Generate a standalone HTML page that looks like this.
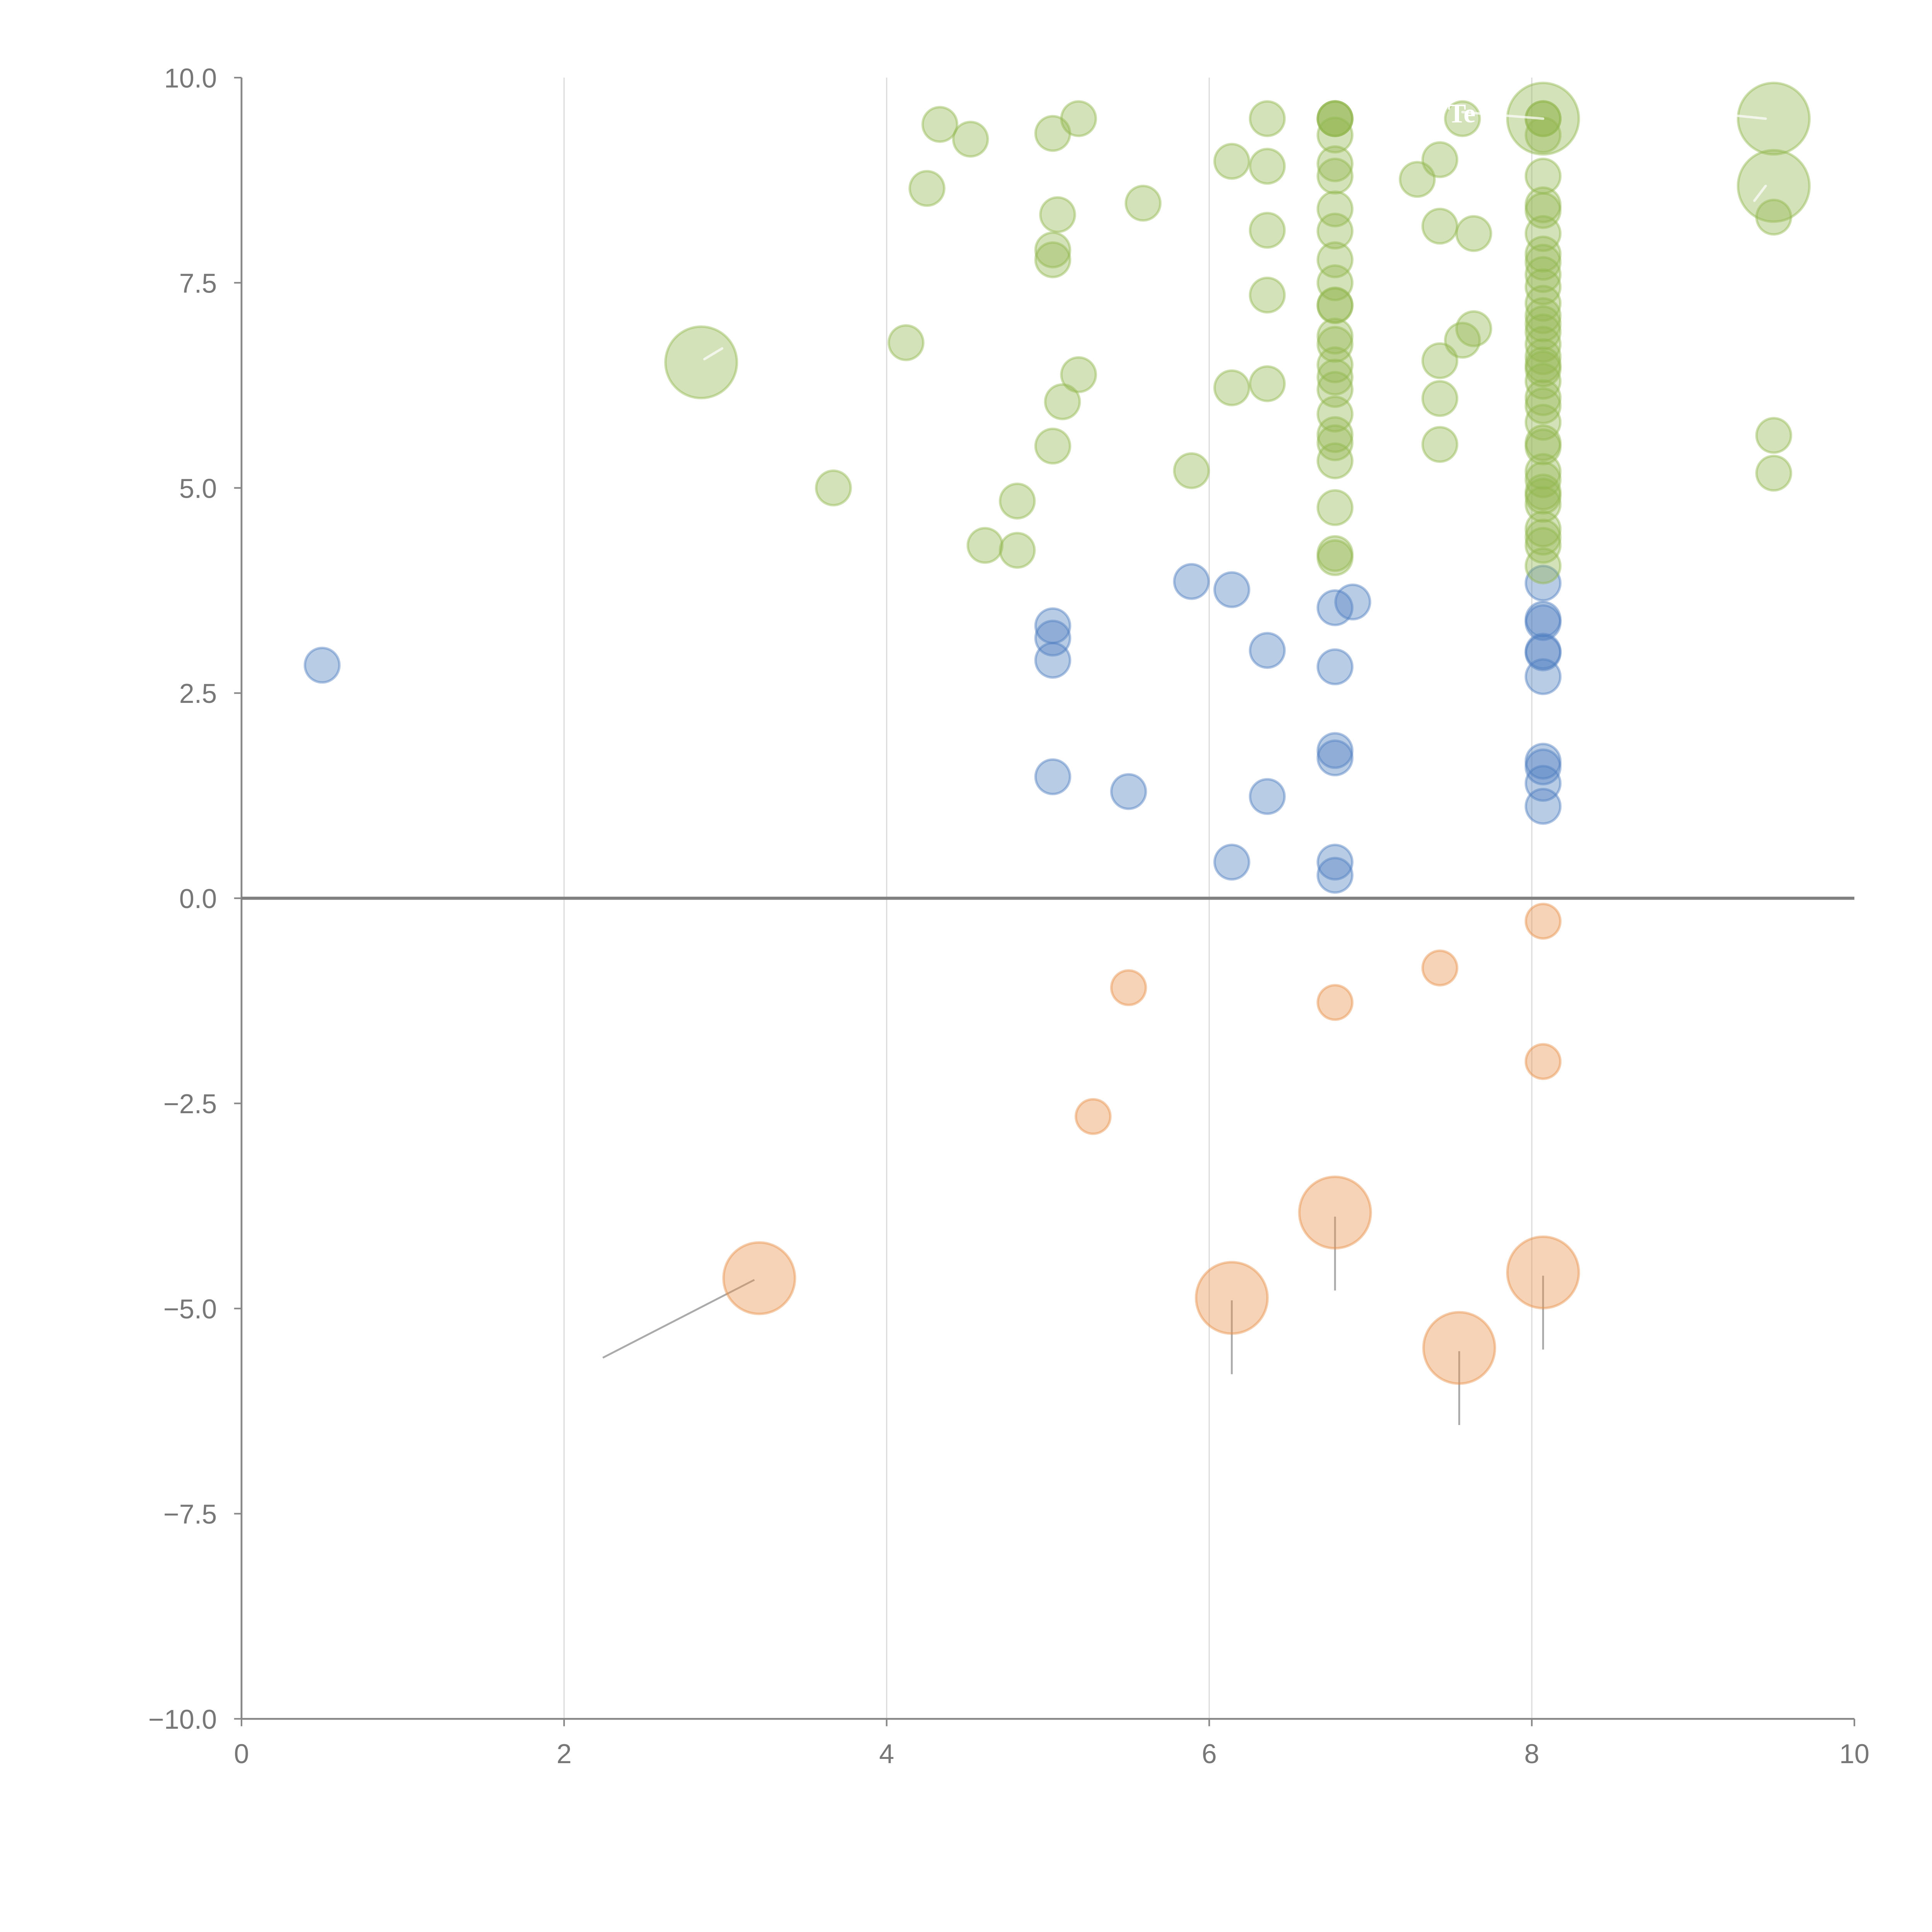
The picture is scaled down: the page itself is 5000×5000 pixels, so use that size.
<!DOCTYPE html>
<html><head><meta charset="utf-8"><style>html,body{margin:0;padding:0;background:#fff}svg{display:block}</style></head>
<body>
<svg id="chart" width="5000" height="5000" viewBox="0 0 1568 1568" xmlns="http://www.w3.org/2000/svg" font-family="Liberation Sans, sans-serif">
<g id="grid"></g>
<g id="axes"></g>
<g id="marks"></g>
</svg>
<script>
const xTicks=[0,2,4,6,8,10];
const yTicks=[10,7.5,5,2.5,0,-2.5,-5,-7.5,-10];
const greenX=[4.33,4.52,4.25,5.03,5.19,5.06,5.03,5.03,5.59,6.14,6.36,6.36,6.36,6.36,6.36,6.14,4.12,5.19,5.09,5.03,3.67,4.81,4.61,4.81,5.89,
6.78,6.78,6.78,6.78,6.78,6.78,6.78,6.78,6.78,6.78,6.78,6.78,6.78,6.78,6.78,6.78,6.78,6.78,6.78,6.78,6.78,6.78,6.78,6.78,
7.29,7.43,7.57,7.43,7.64,7.43,7.57,7.64,7.43,7.43,
8.07,8.07,8.07,8.07,8.07,8.07,8.07,8.07,8.07,8.07,8.07,8.07,8.07,8.07,8.07,8.07,8.07,8.07,8.07,8.07,8.07,8.07,8.07,8.07,8.07,8.07,8.07,8.07,8.07,8.07,8.07,8.07,8.07,8.07,
9.5,9.5,9.5];
const greenY=[9.43,9.25,8.65,9.32,9.5,8.33,7.9,7.78,8.47,8.98,8.92,9.5,8.14,7.35,6.27,6.22,6.77,6.38,6.05,5.51,5.0,4.84,4.3,4.24,5.21,
9.5,9.5,9.5,9.3,8.95,8.8,8.4,8.13,7.78,7.5,7.23,7.22,6.85,6.75,6.5,6.35,6.2,5.9,5.65,5.55,5.33,4.76,4.2,4.15,
8.76,9.0,9.5,8.19,8.1,6.55,6.8,6.94,6.09,5.53,
9.5,9.5,9.3,8.8,8.45,8.38,8.1,7.85,7.75,7.6,7.45,7.25,7.1,7.0,6.9,6.75,6.6,6.5,6.45,6.3,6.1,6.0,5.8,5.55,5.5,5.2,5.1,4.95,4.9,4.8,4.5,4.4,4.3,4.05,
8.3,5.64,5.18];
const greenBigX=[2.85,8.07,9.5,9.5];
const greenBigY=[6.53,9.5,9.5,8.68];
const blueX=[0.5,5.03,5.03,5.03,5.03,5.5,5.89,6.14,6.36,6.36,6.14,6.78,6.89,6.78,6.78,6.78,6.78,6.78,8.07,8.07,8.07,8.07,8.07,8.07,8.07,8.07,8.07,8.07];
const blueY=[2.84,3.32,3.17,2.9,1.48,1.3,3.86,3.76,3.02,1.24,0.44,3.54,3.61,2.82,1.8,1.71,0.44,0.28,3.84,3.4,3.36,3.01,2.99,2.7,1.67,1.6,1.4,1.12];
const orangeX=[5.5,5.28,6.78,7.43,8.07,8.07];
const orangeY=[-1.09,-2.66,-1.27,-0.85,-0.28,-1.99];
const orangeBigX=[3.21,6.14,6.78,7.55,8.07];
const orangeBigY=[-4.63,-4.87,-3.83,-5.48,-4.56];
const leadX1=[3.18,6.14,6.78,7.55,8.07];
const leadY1=[-4.65,-4.9,-3.88,-5.52,-4.6];
const leadX2=[2.24,6.14,6.78,7.55,8.07];
const leadY2=[-5.6,-5.8,-4.78,-6.42,-5.5];

const NS='http://www.w3.org/2000/svg';
const X0=196,X1=1505,Y0=1395,Y1=63;
const sx=v=>X0+(v-0)/10*(X1-X0);
const sy=v=>Y0-(v+10)/20*(Y0-Y1);
function mk(tag,attrs,parent){const e=document.createElementNS(NS,tag);for(const k in attrs)e.setAttribute(k,attrs[k]);parent.appendChild(e);return e;}
const grid=document.getElementById('grid'),axes=document.getElementById('axes'),marks=document.getElementById('marks');

xTicks.forEach(t=>{
  if(t>0&&t<10){const g=mk('line',{x1:sx(t),x2:sx(t),y1:Y1,y2:Y0,stroke:'#dcdcdc','stroke-width':1},grid);
  
  }
  const tk=mk('line',{x1:sx(t),x2:sx(t),y1:Y0,y2:Y0+6,stroke:'#888','stroke-width':1.3},axes);
  
  
  const lb=mk('text',{x:sx(t),y:Y0+36,'text-anchor':'middle','font-size':22,fill:'#777'},axes);
  lb.textContent=t;
  
  
});
yTicks.forEach(t=>{
  const tk=mk('line',{x1:X0-6,x2:X0,y1:sy(t),y2:sy(t),stroke:'#888','stroke-width':1.3},axes);
  
  
  const lb=mk('text',{x:X0-20,y:sy(t)+8,'text-anchor':'end','font-size':22,fill:'#777'},axes);
  lb.textContent=(t<0?'\u2212':'')+Math.abs(t).toFixed(1);
  
  
});
let a=mk('line',{x1:X0,x2:X0,y1:Y1,y2:Y0,stroke:'#888','stroke-width':1.5},axes);


a=mk('line',{x1:X0,x2:X1,y1:Y0,y2:Y0,stroke:'#888','stroke-width':1.5},axes);


a=mk('line',{x1:X0,x2:X1,y1:sy(0),y2:sy(0),stroke:'#808080','stroke-width':2.5},axes);



function bubbles(xs,ys,r,col,name){
  xs.forEach((x,i)=>{
    const c=mk('circle',{cx:sx(x),cy:sy(ys[i]),r:r,fill:col,'fill-opacity':0.4,stroke:col,'stroke-opacity':0.45,'stroke-width':2},marks);
    
    
  });
}
leadX1.forEach((x,i)=>{
  const l=mk('line',{x1:sx(x),y1:sy(leadY1[i]),x2:sx(leadX2[i]),y2:sy(leadY2[i]),stroke:'#aaa','stroke-width':1.5},marks);
  
  
});
bubbles(orangeX,orangeY,14,'#e8904a','bubble-orange');
bubbles(orangeBigX,orangeBigY,29,'#e8904a','bubble-orange-large');
bubbles(blueX,blueY,14,'#4f7fc0','bubble-blue');
bubbles(greenX,greenY,14,'#93b74f','bubble-green');
bubbles(greenBigX,greenBigY,29,'#93b74f','bubble-green-large');
const wl=[[2.87,6.57,2.98,6.7],[8.07,9.5,7.57,9.58],[9.45,9.5,9.05,9.58],[9.45,8.68,9.38,8.5]];
wl.forEach(p=>{
  const l=mk('line',{x1:sx(p[0]),y1:sy(p[1]),x2:sx(p[2]),y2:sy(p[3]),stroke:'#fff','stroke-opacity':0.7,'stroke-width':2,'stroke-linecap':'round'},marks);
  
  
});
const t=mk('text',{x:sx(7.48),y:sy(9.5)+3,'font-size':22,fill:'#fff','font-family':'Liberation Serif, serif','font-weight':'bold'},marks);
t.textContent='Te';


</script>
</body></html>
